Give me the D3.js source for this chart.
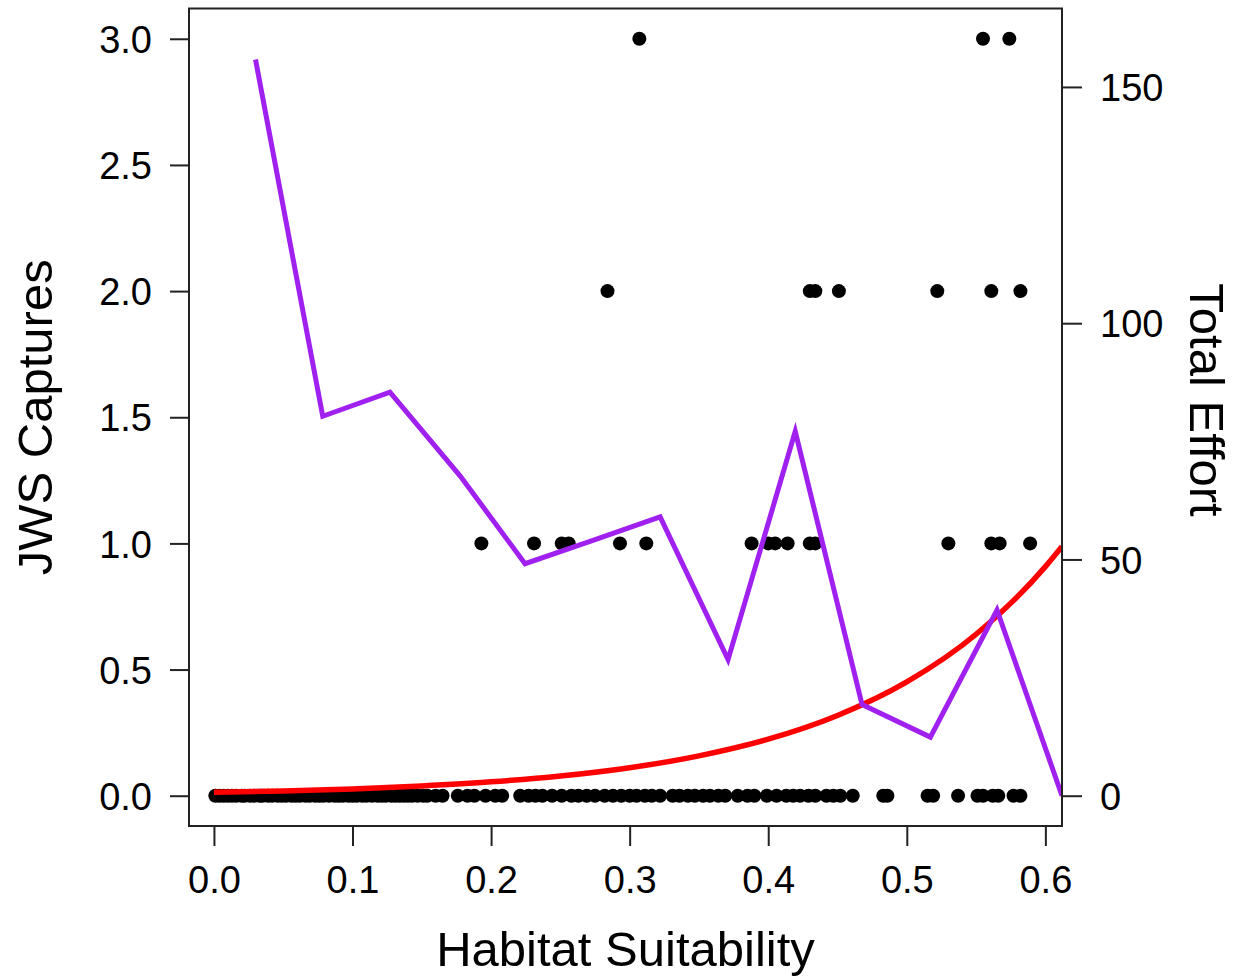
<!DOCTYPE html>
<html>
<head>
<meta charset="utf-8">
<script src="https://cdn.jsdelivr.net/npm/d3@7"></script>
<style>
  html, body { margin: 0; padding: 0; background: #fff; }
  svg { display: block; }
  text { font-family: "Liberation Sans", Arial, sans-serif; fill: #000; }
</style>
</head>
<body>
<svg id="chart" width="1241" height="976"></svg>
<script>
// ---------- data ----------
// Habitat suitability of sites with 0, 1, 2, 3 captures
const captures0 = [0.001,0.004,0.007,0.010,0.013,0.016,0.020,0.022,0.026,0.029,0.033,0.035,0.039,0.042,0.046,0.049,0.052,0.056,0.059,0.062,0.066,0.069,0.073,0.076,0.079,0.083,0.087,0.090,0.093,0.097,0.100,0.103,0.107,0.110,0.114,0.118,0.121,0.124,0.128,0.131,0.134,0.137,0.140,0.143,0.147,0.151,0.154,0.160,0.165,
  0.176,0.183,0.188,0.196,0.203,0.208,
  0.221,0.227,0.232,0.237,0.244,0.251,0.258,0.263,0.269,0.275,0.282,0.288,0.294,
  0.300,0.305,0.311,0.316,0.322,
  0.331,0.336,0.342,0.347,0.353,0.358,0.364,0.369,
  0.378,0.385,0.390,0.399,0.406,
  0.413,0.418,0.423,0.429,0.434,0.442,0.447,0.452,0.461,
  0.483,0.486,0.515,0.519,0.537,0.551,0.555,0.562,0.566,0.577,0.582];
const captures1 = [0.193,0.231,0.251,0.256,0.293,0.312,0.388,0.400,0.405,0.414,0.430,0.434,0.530,0.561,0.567,0.589];
const captures2 = [0.284,0.430,0.434,0.451,0.522,0.561,0.582];
const captures3 = [0.307,0.555,0.574];

// Fitted capture curve (red)
const fitX = [0.0,0.05,0.10,0.15,0.20,0.25,0.30,0.35,0.40,0.45,0.50,0.55,0.60,0.612];
const fitY = [0.014,0.019,0.027,0.039,0.055,0.078,0.111,0.158,0.224,0.318,0.451,0.640,0.908,0.988];

// Total effort per habitat bin (purple, right axis)
const effortX = [0.030,0.0785,0.127,0.1776,0.2245,0.273,0.322,0.371,0.4195,0.4677,0.517,0.5651,0.612];
const effortY = [155.8,80.3,85.4,67.7,49.1,54.0,59.0,28.8,77.1,19.3,12.4,39.3,0];

// Tick labels
const xTicks = [0.0,0.1,0.2,0.3,0.4,0.5,0.6];
const yTicks = [0.0,0.5,1.0,1.5,2.0,2.5,3.0];
const y2Ticks = [0,50,100,150];

// ---------- layout ----------
const box = {left:189, right:1062, top:8.5, bottom:826};
const svg = d3.select("#chart");
svg.append("rect").attr("width",1241).attr("height",976).attr("fill","#fff");

const x = d3.scaleLinear().domain([-0.018,0.612]).range([box.left,box.right]);
const y = d3.scaleLinear().domain([-0.12,3.12]).range([box.bottom,box.top]);
const y2 = d3.scaleLinear().domain([-6.41,166.6]).range([box.bottom,box.top]);

svg.append("clipPath").attr("id","clip").append("rect")
  .attr("x",box.left).attr("y",box.top).attr("width",box.right-box.left).attr("height",box.bottom-box.top);

const plot = svg.append("g").attr("clip-path","url(#clip)");

// points
const pts = [];
captures0.forEach(v=>pts.push([v,0]));
captures1.forEach(v=>pts.push([v,1]));
captures2.forEach(v=>pts.push([v,2]));
captures3.forEach(v=>pts.push([v,3]));
plot.selectAll("circle.pt").data(pts).enter().append("circle")
  .attr("class","pt")
  .attr("cx",d=>x(d[0])).attr("cy",d=>y(d[1])).attr("r",7).attr("fill","#000");

// red fit
plot.append("path")
  .datum(fitX.map((v,i)=>[v,fitY[i]]))
  .attr("d",d3.line().x(d=>x(d[0])).y(d=>y(d[1])).curve(d3.curveMonotoneX))
  .attr("fill","none").attr("stroke","#FF0000").attr("stroke-width",5.5);

// purple effort
plot.append("path")
  .datum(effortX.map((v,i)=>[v,effortY[i]]))
  .attr("d",d3.line().x(d=>x(d[0])).y(d=>y2(d[1])))
  .attr("fill","none").attr("stroke","#A020F0").attr("stroke-width",5)
  .attr("stroke-linejoin","miter");

// box
svg.append("rect").attr("x",box.left).attr("y",box.top)
  .attr("width",box.right-box.left).attr("height",box.bottom-box.top)
  .attr("fill","none").attr("stroke","#222").attr("stroke-width",2);

// axes
const fs = 38;
const xAxis = svg.append("g").attr("transform",`translate(0,${box.bottom})`)
  .call(d3.axisBottom(x).tickValues(xTicks).tickFormat(d3.format(".1f")).tickSize(20).tickPadding(20));
const yAxis = svg.append("g").attr("transform",`translate(${box.left},0)`)
  .call(d3.axisLeft(y).tickValues(yTicks).tickFormat(d3.format(".1f")).tickSize(19).tickPadding(18));
const y2Axis = svg.append("g").attr("transform",`translate(${box.right},0)`)
  .call(d3.axisRight(y2).tickValues(y2Ticks).tickFormat(d3.format("d")).tickSize(20).tickPadding(18));

[xAxis,yAxis,y2Axis].forEach(g=>{
  g.select(".domain").remove();
  g.selectAll(".tick line").attr("stroke","#222").attr("stroke-width",2);
  g.selectAll(".tick text").style("font-size",fs+"px")
   .style("font-family","'Liberation Sans', Arial, sans-serif").attr("fill","#000");
});
xAxis.selectAll(".tick text").attr("dy","0.71em");
yAxis.selectAll(".tick text").attr("dy","0.36em");
y2Axis.selectAll(".tick text").attr("dy","0.36em");

// titles
const tfs = 49;
svg.append("text").attr("x",(box.left+box.right)/2).attr("y",966)
  .attr("text-anchor","middle").style("font-size",tfs+"px").text("Habitat Suitability");
svg.append("text").attr("transform",`translate(52,${(box.top+box.bottom)/2}) rotate(-90)`)
  .attr("text-anchor","middle").style("font-size",tfs+"px").text("JWS Captures");
svg.append("text").attr("transform",`translate(1190,400) rotate(90)`)
  .attr("text-anchor","middle").style("font-size",tfs+"px").text("Total Effort");
</script>
</body>
</html>
